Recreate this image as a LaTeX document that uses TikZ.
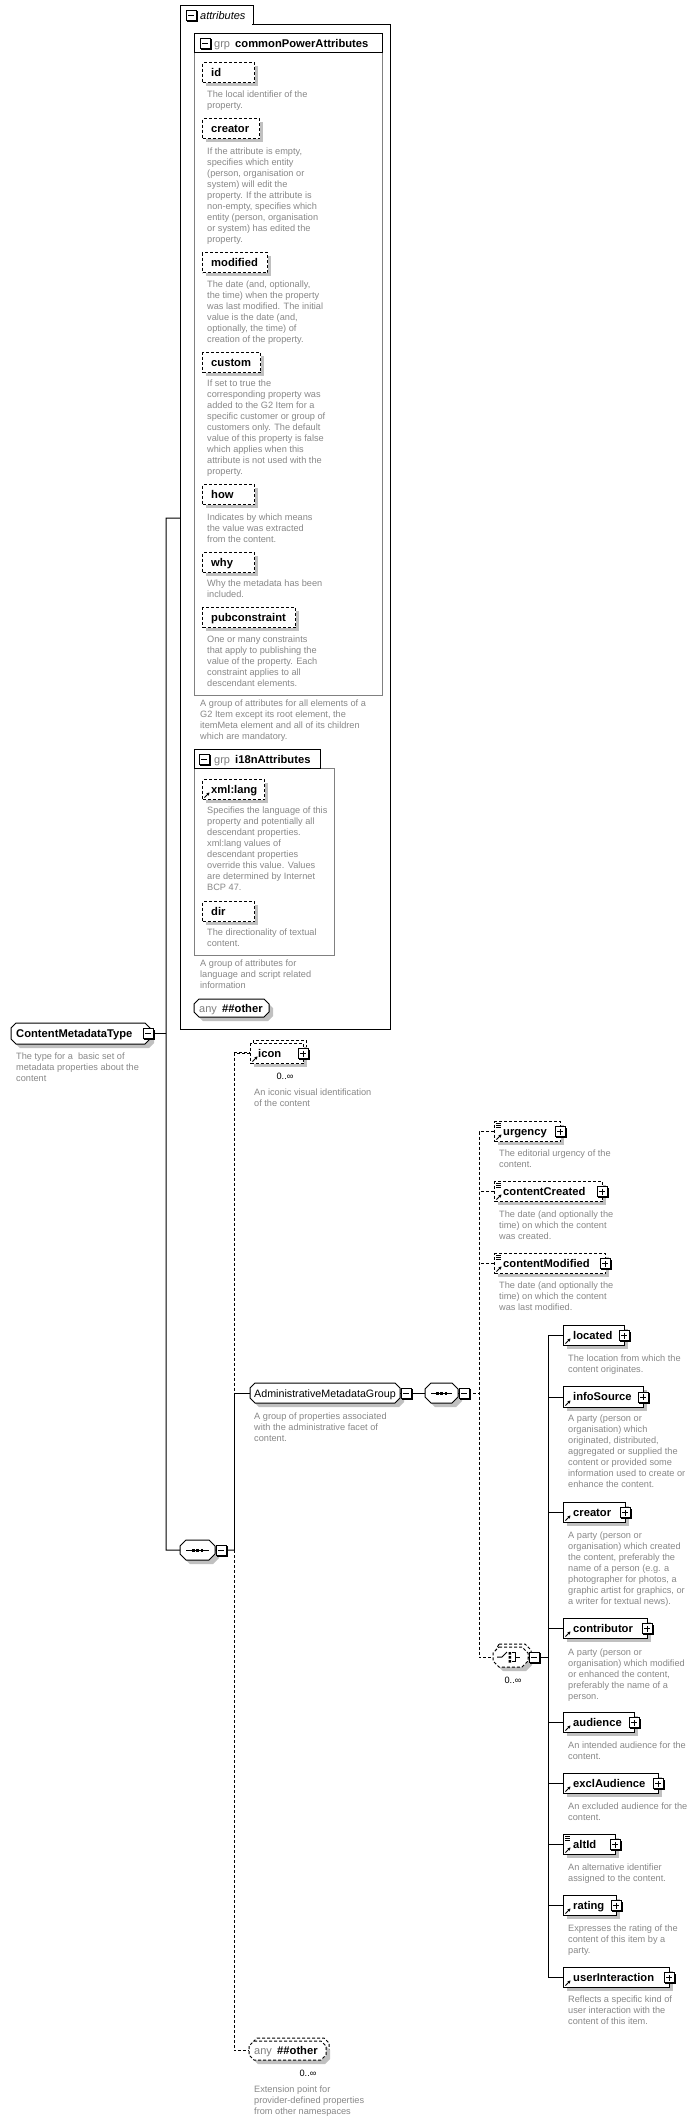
\documentclass[tikz,border=0pt]{standalone}
\usepackage{fontspec}
\setmainfont{Liberation Sans}
\usetikzlibrary{arrows.meta}
\definecolor{shgray}{RGB}{192,192,192}
\definecolor{dgray}{RGB}{136,136,136}
\definecolor{grpgray}{RGB}{128,128,128}
\newcommand\nmfont{\fontsize{11.2}{13}\selectfont\bfseries}
\newcommand\rgfont{\fontsize{11}{13}\selectfont}
\newcommand\dfont{\fontsize{9.2}{11}\selectfont}
\tikzset{
  dsh/.style={dash pattern=on 3pt off 2pt},
  ln/.style={line width=1pt},
  pics/minusbox/.style={code={
    \fill[black] (-4,-4) rectangle (6.5,6.5);
    \filldraw[fill=white,draw=black,line width=1pt] (-5,-5) rectangle (5,5);
    \draw[line width=1pt] (-3,0)--(3,0);}},
  pics/plusbox/.style={code={
    \fill[black] (-4,-4) rectangle (6.5,6.5);
    \filldraw[fill=white,draw=black,line width=1pt] (-5,-5) rectangle (5,5);
    \draw[line width=1pt] (-3,0)--(3,0) (0,-3)--(0,3);}},
}
% element box: name, l, t, r, b, style
\newcommand\xelem[6]{%
  \fill[shgray] ({#2+4},{#3+4}) rectangle ({#4+4},{#5+4});
  \node[draw, fill=white, line width=1pt, inner sep=0, anchor=north west,
        minimum width={#4-#2}, minimum height={#5-#3}, #6] (#1) at (#2,#3) {};}
% element with label: name,l,t,r,b,style,offset,label
\newcommand\xel[8]{%
  \xelem{#1}{#2}{#3}{#4}{#5}{#6}
  \node[anchor=base west, inner sep=0, font=\nmfont] (#1-t) at ({#2+#7},{(#3+#5)/2+4}) {#8};}
% chamfered shape: name,l,t,r,b,c,style
\newcommand\xchamf[7]{%
  \fill[shgray] ({#2+#6+4},{#3+4}) -- ({#4-#6+4},{#3+4}) -- ({#4+4},{#3+#6+4}) -- ({#4+4},{#5-#6+4})
     -- ({#4-#6+4},{#5+4}) -- ({#2+#6+4},{#5+4}) -- ({#2+4},{#5-#6+4}) -- ({#2+4},{#3+#6+4}) -- cycle;
  \draw[fill=white, line width=1pt, #7] ({#2+#6},{#3}) -- ({#4-#6},{#3}) -- ({#4},{#3+#6}) -- ({#4},{#5-#6})
     -- ({#4-#6},{#5}) -- ({#2+#6},{#5}) -- ({#2},{#5-#6}) -- ({#2},{#3+#6}) -- cycle;
  \node[inner sep=0, minimum width={#4-#2}, minimum height={#5-#3}, anchor=north west] (#1) at (#2,#3) {};}
\newcommand\xdesc[4]{\node[anchor=base west, inner sep=0, text=dgray, font=\dfont] (#1) at ({#2},{#3+3}) {\parbox[t]{220pt}{\raggedright #4}};}
\newcommand\refarrow[1]{\draw[line width=0.9pt,-{Stealth[length=3pt,width=3.4pt]}] ([shift={(2.5,-2.5)}]#1.south west) -- ([shift={(7.5,-7.5)}]#1.south west);}
\newcommand\simpico[1]{\draw[line width=0.7pt] ([shift={(2,2)}]#1.north west) -- ++(5,0) ([shift={(2,4)}]#1.north west) -- ++(5,0) ([shift={(2,6)}]#1.north west) -- ++(5,0);}
\newcommand\plusr[1]{\pic at ([xshift=-1pt]#1.east) {plusbox};}
\newcommand\seqsym[1]{%
  \draw[line width=1pt] ([xshift=6]#1.west) -- ([xshift=-6]#1.east);
  \fill ([shift={(-5.5,-1.3)}]#1.center) rectangle ++(2.6,2.6);
  \fill ([shift={(-1.3,-1.3)}]#1.center) rectangle ++(2.6,2.6);
  \fill ([shift={(2.9,-1.3)}]#1.center) rectangle ++(2.6,2.6);}
\begin{document}
\begin{tikzpicture}[x=1pt,y=-1pt]
\useasboundingbox (0,0) rectangle (698,2121);
\fill[white] (0,0) rectangle (698,2121);

% ---------------- attributes container ----------------
\node[draw, line width=1pt, anchor=north west, minimum width=210, minimum height=1005, inner sep=0] (attrs) at (180,24) {};
\node[draw, fill=white, line width=1pt, anchor=north west, minimum width=73, minimum height=19, inner sep=0] (attrtab) at (180,5) {};
\draw[white, line width=1.2pt] (180.6,24) -- (252.4,24);
\pic at (191,15) {minusbox};
\node[anchor=base west, inner sep=0, font=\rgfont\itshape] (attrlbl) at (200,19) {attributes};

% commonPowerAttributes group
\node[draw=grpgray, line width=1pt, anchor=north west, minimum width=188, minimum height=643, inner sep=0] (cpa) at (194,52) {};
\node[draw, fill=white, line width=1pt, anchor=north west, minimum width=188, minimum height=19, inner sep=0] (cpatab) at (194,33) {};
\pic at (205,43) {minusbox};
\node[anchor=base west, inner sep=0, font=\rgfont, text=grpgray] (cpag) at (214,47) {grp};
\node[anchor=base west, inner sep=0, font=\nmfont] (cpan) at (235,47) {commonPowerAttributes};

\xel{aid}{202}{62}{254}{82}{dsh}{9}{id}
\xdesc{daid}{207}{94}{The local identifier of the\\property.}
\xel{acreator}{202}{118}{259}{138}{dsh}{9}{creator}
\xdesc{dacreator}{207}{151}{If the attribute is empty,\\specifies which entity\\(person, organisation or\\system) will edit the\\property. If the attribute is\\non-empty, specifies which\\entity (person, organisation\\or system) has edited the\\property.}
\xel{amod}{202}{252}{267}{272}{dsh}{9}{modified}
\xdesc{damod}{207}{284}{The date (and, optionally,\\the time) when the property\\was last modified. The initial\\value is the date (and,\\optionally, the time) of\\creation of the property.}
\xel{acustom}{202}{352}{260}{372}{dsh}{9}{custom}
\xdesc{dacustom}{207}{383}{If set to true the\\corresponding property was\\added to the G2 Item for a\\specific customer or group of\\customers only. The default\\value of this property is false\\which applies when this\\attribute is not used with the\\property.}
\xel{ahow}{202}{484}{254}{504}{dsh}{9}{how}
\xdesc{dahow}{207}{517}{Indicates by which means\\the value was extracted\\from the content.}
\xel{awhy}{202}{552}{254}{572}{dsh}{9}{why}
\xdesc{dawhy}{207}{583}{Why the metadata has been\\included.}
\xel{apub}{202}{607}{295}{627}{dsh}{9}{pubconstraint}
\xdesc{dapub}{207}{639}{One or many constraints\\that apply to publishing the\\value of the property. Each\\constraint applies to all\\descendant elements.}
\xdesc{dcpa}{200}{703}{A group of attributes for all elements of a\\G2 Item except its root element, the\\itemMeta element and all of its children\\which are mandatory.}

% i18nAttributes group
\node[draw=grpgray, line width=1pt, anchor=north west, minimum width=140, minimum height=187, inner sep=0] (i18n) at (194,768) {};
\node[draw, fill=white, line width=1pt, anchor=north west, minimum width=126, minimum height=19, inner sep=0] (i18ntab) at (194,749) {};
\pic at (204,759) {minusbox};
\node[anchor=base west, inner sep=0, font=\rgfont, text=grpgray] (i18ng) at (214,763) {grp};
\node[anchor=base west, inner sep=0, font=\nmfont] (i18nn) at (235,763) {i18nAttributes};
\xel{axl}{202}{779}{264}{799}{dsh}{9}{xml:lang}
\refarrow{axl}
\xdesc{daxl}{207}{810}{Specifies the language of this\\property and potentially all\\descendant properties.\\xml:lang values of\\descendant properties\\override this value. Values\\are determined by Internet\\BCP 47.}
\xel{adir}{202}{901}{254}{921}{dsh}{9}{dir}
\xdesc{dadir}{207}{932}{The directionality of textual\\content.}
\xdesc{di18n}{200}{963}{A group of attributes for\\language and script related\\information}

\xchamf{aany}{194}{999}{269}{1017}{5}{}
\node[anchor=base west, inner sep=0, font=\rgfont, text=grpgray] (aanyg) at (199,1012) {any};
\node[anchor=base west, inner sep=0, font=\nmfont] (aanyn) at (222,1012) {\#\#other};

% ---------------- connectors ----------------
\coordinate (b1t) at (166,518);
\coordinate (b1b) at (166,1550);
\coordinate (b2m) at (234,1550);
\coordinate (b3t) at (479,1131);
\coordinate (b4t) at (548,1335);

% ---------------- main tree ----------------
\xchamf{cmt}{11}{1023}{150}{1044}{5}{}
\node[anchor=base west, inner sep=0, font=\nmfont] (cmtt) at (16,1037.5) {ContentMetadataType};
\xdesc{dcmt}{16}{1056}{The type for a\ \ basic set of\\metadata properties about the\\content}

\xchamf{seq1}{180}{1540}{215}{1560}{6}{}
\seqsym{seq1}

\draw[ln] (attrs.west |- b1t) -- (b1t) -- (b1b) -- (seq1.west);
\draw[ln] (cmt.east) -- (cmt.east -| b1t);
\draw[ln] (seq1.east) -- (b2m);

% icon
\draw[ln,dsh] (234,1052) -- (250,1052);
\draw[ln,dsh,fill=white] (253,1040) rectangle (306,1060);
\xel{icon}{250}{1043}{303}{1063}{dsh}{8}{icon}
\refarrow{icon}
\plusr{icon}
\node[anchor=base, inner sep=0, font=\dfont] (iconm) at (285,1079.5) {0..∞};
\xdesc{dicon}{254}{1092}{An iconic visual identification\\of the content}

% administrative group
\xchamf{adm}{250}{1383}{400}{1403}{5}{}
\node[anchor=base west, inner sep=0, font=\fontsize{10.7}{13}\selectfont] (admt) at (254,1397) {AdministrativeMetadataGroup};
\xdesc{dadm}{254}{1416}{A group of properties associated\\with the administrative facet of\\content.}

\draw[ln] (b2m) |- (adm.west);
\draw[ln,dsh] (icon.west) -| (b2m |- adm.west);

\xchamf{seq2}{425}{1383}{458}{1403}{6}{}
\seqsym{seq2}
\draw[ln] (adm.east) -- (seq2.west);
\draw[ln,dsh] (seq2.east) -- (b3t |- seq2.east);

% optional elements
\xel{urg}{494}{1121}{560}{1141}{dsh}{9}{urgency}
\simpico{urg}\refarrow{urg}\plusr{urg}
\xdesc{durg}{499}{1153}{The editorial urgency of the\\content.}
\xel{cc}{494}{1181}{602}{1201}{dsh}{9}{contentCreated}
\simpico{cc}\refarrow{cc}\plusr{cc}
\xdesc{dcc}{499}{1214}{The date (and optionally the\\time) on which the content\\was created.}
\xel{cm}{494}{1253}{605}{1273}{dsh}{9}{contentModified}
\simpico{cm}\refarrow{cm}\plusr{cm}
\xdesc{dcm}{499}{1285}{The date (and optionally the\\time) on which the content\\was last modified.}

% choice
\draw[ln,dsh,fill=white] (499,1644) -- (525,1644) -- (531,1650) -- (531,1658) -- (525,1664) -- (499,1664) -- (496,1658) -- (496,1650) -- cycle;
\xchamf{choice}{493}{1647}{528}{1667}{6}{dsh}
\draw[line width=1pt] (497,1657) -- (502,1657) -- (507,1652);
\fill (508.5,1652) rectangle ++(2.5,2.5) (508.5,1656) rectangle ++(2.5,2.5) (508.5,1660) rectangle ++(2.5,2.5);
\draw[line width=1pt] (512,1652.5) -- (515.5,1652.5) -- (515.5,1661.5) -- (512,1661.5) (515.5,1657) -- (520,1657);
\node[anchor=base, inner sep=0, font=\dfont] (choicem) at (513,1683.5) {0..∞};

\draw[ln,dsh] (urg.west) -- (urg.west -| b3t) -- (b3t |- choice.west) -- (choice.west);
\draw[ln,dsh] (cc.west) -- (cc.west -| b3t);
\draw[ln,dsh] (cm.west) -- (cm.west -| b3t);
\draw[ln] (choice.east) -- (b4t |- choice.east);

% choice members
\xel{loc}{563}{1325}{624}{1345}{}{10}{located}
\refarrow{loc}\plusr{loc}
\xdesc{dloc}{568}{1358}{The location from which the\\content originates.}
\xel{info}{563}{1386}{643}{1407}{}{10}{infoSource}
\refarrow{info}\plusr{info}
\xdesc{dinfo}{568}{1418}{A party (person or\\organisation) which\\originated, distributed,\\aggregated or supplied the\\content or provided some\\information used to create or\\enhance the content.}
\xel{crt}{563}{1502}{625}{1522}{}{10}{creator}
\refarrow{crt}\plusr{crt}
\xdesc{dcrt}{568}{1535}{A party (person or\\organisation) which created\\the content, preferably the\\name of a person (e.g. a\\photographer for photos, a\\graphic artist for graphics, or\\a writer for textual news).}
\xel{contr}{563}{1618}{647}{1638}{}{10}{contributor}
\refarrow{contr}\plusr{contr}
\xdesc{dcontr}{568}{1652}{A party (person or\\organisation) which modified\\or enhanced the content,\\preferably the name of a\\person.}
\xel{aud}{563}{1712}{634}{1732}{}{10}{audience}
\refarrow{aud}\plusr{aud}
\xdesc{daud}{568}{1745}{An intended audience for the\\content.}
\xel{excl}{563}{1773}{658}{1793}{}{10}{exclAudience}
\refarrow{excl}\plusr{excl}
\xdesc{dexcl}{568}{1806}{An excluded audience for the\\content.}
\xel{alt}{563}{1834}{615}{1854}{}{10}{altId}
\simpico{alt}\refarrow{alt}\plusr{alt}
\xdesc{dalt}{568}{1867}{An alternative identifier\\assigned to the content.}
\xel{rat}{563}{1895}{616}{1915}{}{10}{rating}
\refarrow{rat}\plusr{rat}
\xdesc{drat}{568}{1928}{Expresses the rating of the\\content of this item by a\\party.}
\xel{ui}{563}{1967}{669}{1987}{}{10}{userInteraction}
\refarrow{ui}\plusr{ui}
\xdesc{dui}{568}{1999}{Reflects a specific kind of\\user interaction with the\\content of this item.}

\draw[ln] (loc.west) -- (loc.west -| b4t) -- (b4t |- ui.west) -- (ui.west);
\foreach \n in {info,crt,contr,aud,excl,alt,rat}{\draw[ln] (\n.west) -- (\n.west -| b4t);}

% any ##other
\draw[ln,dsh,fill=white] (257,2038) -- (324,2038) -- (329,2043) -- (329,2052) -- (324,2057) -- (257,2057) -- (252,2052) -- (252,2043) -- cycle;
\xchamf{anyo}{249}{2041}{326}{2060}{5}{dsh}
\node[anchor=base west, inner sep=0, font=\rgfont, text=grpgray] (anyog) at (254,2054) {any};
\node[anchor=base west, inner sep=0, font=\nmfont] (anyon) at (277,2054) {\#\#other};
\node[anchor=base, inner sep=0, font=\dfont] (anyom) at (308,2076.5) {0..∞};
\xdesc{danyo}{254}{2089}{Extension point for\\provider-defined properties\\from other namespaces}
\draw[ln,dsh] (b2m) |- (anyo.west);

% minus icons on top
\pic at (148,1033.5) {minusbox};
\pic at (221,1550) {minusbox};
\pic at (406,1393) {minusbox};
\pic at (464,1393) {minusbox};
\pic at (534,1657) {minusbox};
\end{tikzpicture}
\end{document}
